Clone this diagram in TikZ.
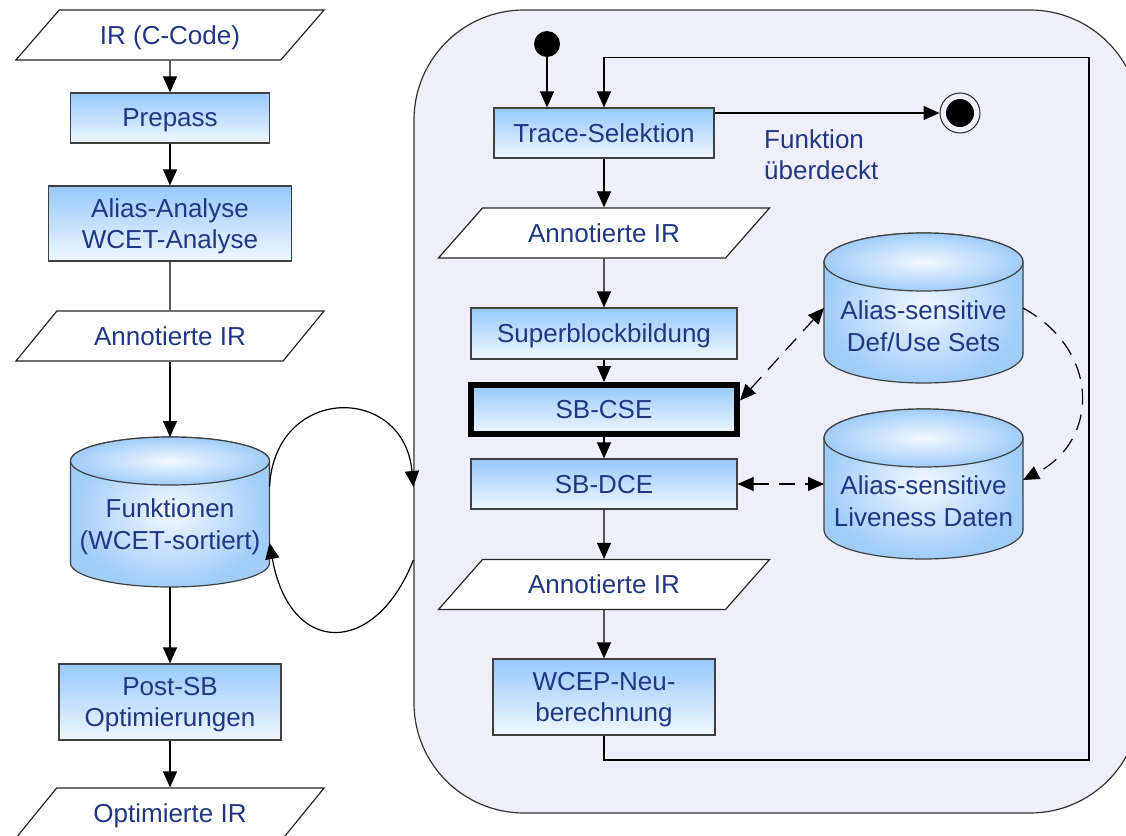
\documentclass[tikz,border=0pt]{standalone}
\usepackage{fontspec}
\setmainfont{Liberation Sans}
\usetikzlibrary{arrows.meta,shapes.geometric}

\definecolor{txtblau}{RGB}{32,56,130}
\definecolor{boxoben}{RGB}{150,201,252}
\definecolor{boxunten}{RGB}{240,247,255}
\definecolor{zylaussen}{RGB}{160,205,250}
\definecolor{zylinnen}{RGB}{242,248,255}
\definecolor{rahmen}{RGB}{239,239,252}

% Datenbank-Zylinder um einen leeren Knoten: Name, x-Radius, y-Radius
\newcommand{\zylinder}[3]{%
  \shadedraw[inner color=zylinnen, outer color=zylaussen, draw=black!75, line width=1.2pt]
    ([yshift=-#3pt]#1.north west) -- ([yshift=#3pt]#1.south west)
    arc[start angle=180, end angle=360, x radius=#2pt, y radius=#3pt]
    -- ([yshift=-#3pt]#1.north east)
    arc[start angle=0, end angle=180, x radius=#2pt, y radius=#3pt] -- cycle;
  \shadedraw[inner color=zylinnen, outer color=zylaussen, draw=black!75, line width=1.2pt]
    ([yshift=-#3pt]#1.north) ellipse[x radius=#2pt, y radius=#3pt];
}

\begin{document}
\begin{tikzpicture}[x=1pt,y=-1pt,
  every node/.style={font=\fontsize{26}{31.5}\selectfont, text=txtblau},
  box/.style={rectangle, draw=black!75, line width=1.2pt, top color=boxoben, bottom color=boxunten, align=center, inner sep=2pt, text depth=0pt},
  io/.style={trapezium, trapezium left angle=39, trapezium right angle=141, trapezium stretches=true, draw=black!85, line width=1.2pt, fill=white, minimum height=50pt, inner sep=2pt, text depth=0pt},
  zyl/.style={rectangle, minimum width=199pt, minimum height=150pt, outer sep=0pt, inner sep=0pt},
  zyltext/.style={align=center, inner sep=0pt},
  pfeil/.style={draw=black, line width=1.2pt, -{Triangle[length=16pt,width=14pt]}},
  strich/.style={pfeil, dash pattern=on 16pt off 10pt},
  panel/.style={draw=black!80, line width=1.2pt, fill=rahmen, rounded corners=110pt, minimum width=726pt, minimum height=803pt}]

\useasboundingbox (0,0) rectangle (1126,835);

% linke Spalte
\node[io, minimum width=309pt] (ir) at (170,35) {IR (C-Code)};
\node[box, minimum width=199pt, minimum height=50pt] (prepass) at (170,118) {Prepass};
\node[box, minimum width=243pt, minimum height=75pt] (alias) at (170,223.5) {Alias-Analyse\\WCET-Analyse};
\node[io, minimum width=309pt] (annotL) at (170,336) {Annotierte IR};
\node[zyl] (funkt) at (170,512) {};
\zylinder{funkt}{99.5}{24}
\node[zyltext] (funkt-text) at (170,527) {Funktionen\\(WCET-sortiert)};
\node[box, minimum width=222pt, minimum height=76pt] (postsb) at (170,702) {Post-SB\\Optimierungen};
\node[io, minimum width=309pt] (optir) at (170,813) {Optimierte IR};

\draw[pfeil] (ir) -- (prepass);
\draw[pfeil] (prepass) -- (alias);
\draw[line width=1.2pt] (alias) -- (annotL);
\draw[pfeil] (annotL) -- (funkt);
\draw[pfeil] (funkt) -- (postsb);
\draw[pfeil] (postsb) -- (optir);

% Superblock-Optimierung
\node[panel] (opt) at (777,411.5) {};
\node[circle, fill=black, minimum size=26pt, inner sep=0pt] (start) at (547,44) {};
\node[box, minimum width=220pt, minimum height=50pt] (trace) at (604,133) {Trace-Selektion};
\node[circle, draw=black!85, line width=1pt, minimum size=40pt, inner sep=0pt] (ende) at (960,113) {};
\node[circle, fill=black, minimum size=28pt, inner sep=0pt] (ende-punkt) at (ende) {};
\node[anchor=north west, align=left, inner sep=0pt] (fueb) at (764,129) {Funktion\\überdeckt};
\node[io, minimum width=332pt] (annotR1) at (604,233) {Annotierte IR};
\node[box, minimum width=266pt, minimum height=51pt] (superblock) at (604,333.5) {Superblockbildung};
\node[box, minimum width=266pt, minimum height=49pt, line width=6pt, draw=black] (sbcse) at (604,409.5) {SB-CSE};
\node[box, minimum width=266pt, minimum height=50pt] (sbdce) at (604,484) {SB-DCE};
\node[io, minimum width=332pt] (annotR2) at (604,584.5) {Annotierte IR};
\node[box, minimum width=222pt, minimum height=76pt] (wcep) at (604,697) {WCEP-Neu-\\berechnung};
\node[zyl] (defuse) at (923.5,308) {};
\zylinder{defuse}{99.5}{29}
\node[zyltext] (defuse-text) at (923.5,326) {Alias-sensitive\\Def/Use Sets};
\node[zyl] (live) at (923.5,484) {};
\zylinder{live}{99.5}{29}
\node[zyltext] (live-text) at (923.5,501) {Alias-sensitive\\Liveness Daten};

\draw[pfeil] (start) -- (start |- trace.north);
\draw[pfeil] ([yshift=20pt]trace.east) -- (ende);
\draw[pfeil] (trace) -- (annotR1);
\draw[pfeil] (annotR1) -- (superblock);
\draw[pfeil] (superblock) -- (sbcse);
\draw[pfeil] (sbcse) -- (sbdce);
\draw[pfeil] (sbdce) -- (annotR2);
\draw[pfeil] (annotR2) -- (wcep);
\coordinate (rueck) at (1089,760);
\draw[pfeil] (wcep.south) |- (rueck) |- ([yshift=50pt]trace.north) -- (trace.north);

\draw[strich, {Triangle[length=16pt,width=14pt]}-{Triangle[length=16pt,width=14pt]}] ([yshift=9pt]sbcse.east) -- (defuse.west);
\draw[strich, {Triangle[length=16pt,width=14pt]}-{Triangle[length=16pt,width=14pt]}] (sbdce) -- (live);
\draw[strich] (defuse.east) .. controls (1100,350) and (1100,440) .. ([yshift=4pt]live.east);

% Schleife zwischen Funktionen und Optimierung
\draw[pfeil] ([yshift=25pt]funkt.east) .. controls (275,384) and (404,384) .. ([yshift=-75.5pt]opt.west);
\draw[pfeil] ([yshift=-148.5pt]opt.west) .. controls (375,657) and (290,657) .. ([yshift=-31pt]funkt.east);
\end{tikzpicture}
\end{document}
